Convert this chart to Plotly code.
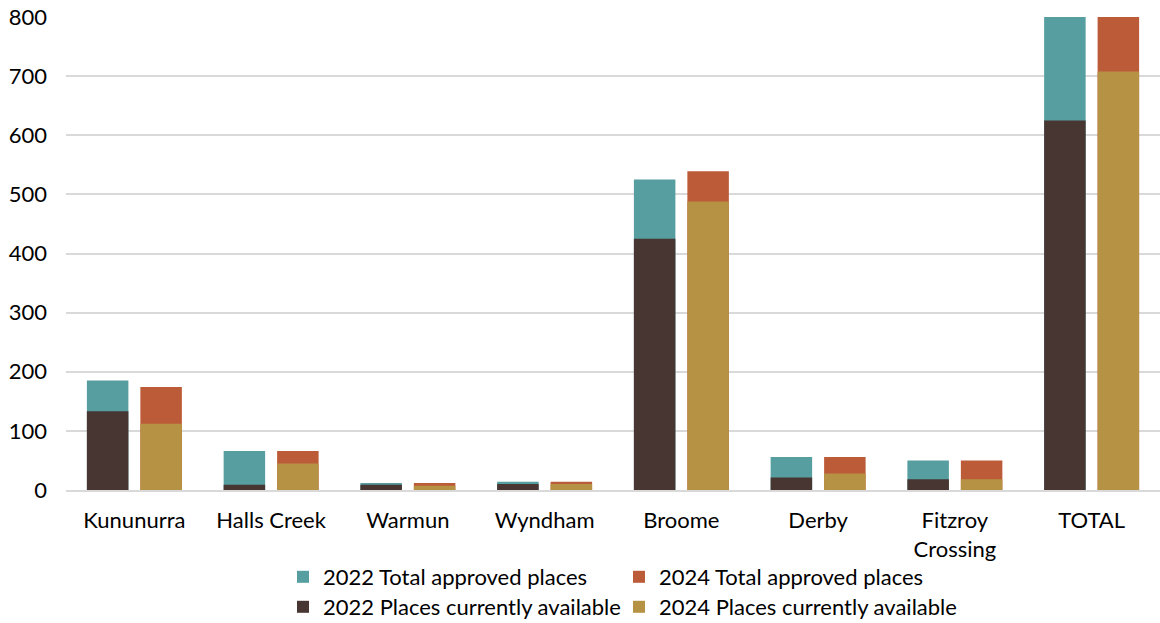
import plotly.graph_objects as go

categories = ["Kununurra", "Halls Creek", "Warmun", "Wyndham", "Broome", "Derby",
              "Fitzroy<br>Crossing", "TOTAL"]
total_2022 = [185, 66, 12, 14, 525, 56, 50, 908]
avail_2022 = [133, 9, 9, 10, 425, 21, 18, 625]
total_2024 = [174, 66, 12, 14, 539, 56, 50, 911]
avail_2024 = [112, 45, 7, 10, 488, 28, 18, 708]
y_ticks = [0, 100, 200, 300, 400, 500, 600, 700, 800]

C_TEAL = "#569EA0"
C_ORANGE = "#BC5B38"
C_DARK = "#483633"
C_GOLD = "#B69244"

FONT = "Lato"
FS = 22

fig = go.Figure()
fig.add_trace(go.Bar(x=categories, y=total_2022, name="2022 Total approved places",
                     marker_color=C_TEAL, offsetgroup="2022", marker_line_width=0,
                     legend="legend"))
fig.add_trace(go.Bar(x=categories, y=total_2024, name="2024 Total approved places",
                     marker_color=C_ORANGE, offsetgroup="2024", marker_line_width=0,
                     legend="legend2"))
fig.add_trace(go.Bar(x=categories, y=avail_2022, name="2022 Places currently available",
                     marker_color=C_DARK, offsetgroup="2022", marker_line_width=0,
                     legend="legend3"))
fig.add_trace(go.Bar(x=categories, y=avail_2024, name="2024 Places currently available",
                     marker_color=C_GOLD, offsetgroup="2024", marker_line_width=0,
                     legend="legend4"))

leg_common = dict(orientation="h", xref="container", yref="container",
                  xanchor="left", yanchor="middle",
                  font=dict(family=FONT, size=FS, color="#000000"),
                  traceorder="normal", itemclick=False, itemdoubleclick=False,
                  bgcolor="rgba(0,0,0,0)")

X1 = 283 / 1160
X2 = 619 / 1160
Y1 = 1 - 577 / 623
Y2 = 1 - 607 / 623

fig.update_layout(
    width=1160, height=623,
    margin=dict(l=66, r=0, t=17, b=133, autoexpand=False),
    paper_bgcolor="white", plot_bgcolor="white",
    barmode="group", bargap=0.218, bargroupgap=0.224,
    font=dict(family=FONT, size=FS, color="#000000"),
    showlegend=True,
    legend=dict(x=X1, y=Y1, **leg_common),
    legend2=dict(x=X2, y=Y1, **leg_common),
    legend3=dict(x=X1, y=Y2, **leg_common),
    legend4=dict(x=X2, y=Y2, **leg_common),
    hovermode=False,
)
fig.update_yaxes(range=[0, 800], tickvals=y_ticks, showgrid=True,
                 gridcolor="#D9D9D9", gridwidth=1.5, zeroline=False,
                 showline=False, ticks="", ticklabelstandoff=18, automargin=False,
                 tickfont=dict(family=FONT, size=FS, color="#000000"))
fig.update_xaxes(showline=True, linecolor="#D9D9D9", linewidth=1.5, ticks="",
                 ticklabelstandoff=10, automargin=False,
                 tickfont=dict(family=FONT, size=FS, color="#000000"))

fig.write_html("out.html")
